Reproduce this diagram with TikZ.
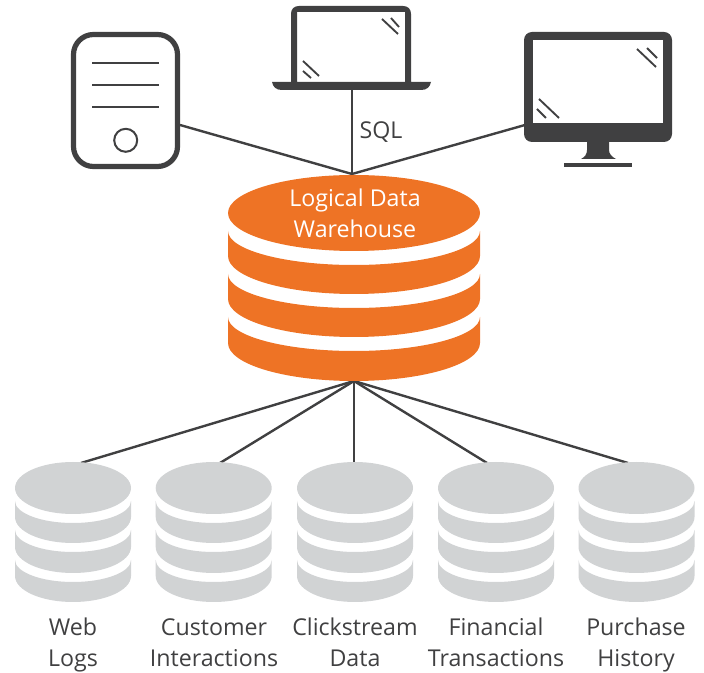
\documentclass[tikz,border=0pt]{standalone}
\usepackage{fontspec}
\setmainfont{Open Sans}
\definecolor{darkgrey}{HTML}{404041}
\definecolor{whorange}{HTML}{EE7325}
\definecolor{dbgrey}{HTML}{D1D3D4}
\tikzset{
  link/.style={draw=darkgrey, line width=1.8pt},
  glint/.style={draw=darkgrey, line width=1.4pt},
  thinline/.style={draw=darkgrey, line width=1.5pt},
  solid dark/.style={fill=darkgrey, even odd rule},
  caption/.style={text=darkgrey, font=\fontsize{17.4}{23.2}\selectfont, align=center, inner sep=0pt,
    execute at begin node=\strut, execute at end node=\strut},
}
\begin{document}
\begin{tikzpicture}[x=0.75pt, y=-0.75pt]
  \useasboundingbox (0,0) rectangle (704,673);

  % connector ends
  \coordinate (hub top) at (352,174);
  \coordinate (hub bottom) at (354,381);
  \coordinate (server port) at (180,125);
  \coordinate (laptop port) at (352,90);
  \coordinate (monitor port) at (525,125);

  \draw[link] (server port) -- (hub top);
  \draw[link] (laptop port) -- (hub top);
  \draw[link] (monitor port) -- (hub top);

  \foreach \name/\x in {web/81, customer/220, click/354, fin/487, purchase/628} {
      \coordinate (\name) at (\x,463);
      \draw[link] (hub bottom) -- (\name);
    }

  % server
  \draw[darkgrey, line width=3.9pt, rounded corners=15pt, fill=white] (73.5,34.5) rectangle (177.5,166.5);
  \foreach \y in {62.7, 84.7, 106.7} {
      \draw[thinline] (92,\y) -- (159,\y);
    }
  \draw[thinline] (125.7,140.3) circle (11.5);

  % laptop
  \fill[solid dark] (291,82) -- (291,14) .. controls (291,9) and (294,6) .. (299,6)
    -- (403,6) .. controls (408,6) and (411,9) .. (411,14) -- (411,82) -- (431,82)
    .. controls (430,87) and (427,90) .. (421,90) -- (282,90) .. controls (276,90) and (273,87) .. (272,82) -- cycle
    (297,12) rectangle (405,82);
  \draw[glint] (303,61) -- (319,76);
  \draw[glint] (303,71) -- (311,78);
  \draw[glint] (382,19) -- (398,34);
  \draw[glint] (391,18) -- (399,27);

  % monitor
  \fill[darkgrey] (587,140) -- (609,140) -- (609,150) .. controls (609,154) and (612,157) .. (616,159)
    -- (581,159) .. controls (585,157) and (587,154) .. (587,150) -- cycle;
  \fill[darkgrey] (564,163) rectangle (632,167);
  \fill[solid dark, rounded corners=6pt] (524,32) rectangle (672,142);
  \fill[white] (533,40) rectangle (663,123);
  \draw[glint] (637,49) -- (656,67);
  \draw[glint] (647,48) -- (657,58);
  \draw[glint] (539,99) -- (559,118);
  \draw[glint] (537,109) -- (546,118);

  % warehouse
  \fill[whorange] (354,213) ellipse [x radius=94.5pt, y radius=28.5pt];
  \foreach \s/\b in {231/256, 274/299, 317/343} {
      \fill[whorange] (228,\s) arc[start angle=180, end angle=360, x radius=94.5pt, y radius=25.5pt]
        -- (480,\b) arc[start angle=360, end angle=180, x radius=94.5pt, y radius=28.5pt] -- cycle;
    }
  \node[caption, text=white] (warehouse) at (355,218) {Logical Data\\Warehouse};

  % sources
  \foreach \x in {73, 213.7, 355, 496, 636.5} {
      \fill[dbgrey] (\x,488) ellipse [x radius=43.5pt, y radius=19.5pt];
      \foreach \s/\b in {501/517, 530/547, 560/576} {
          \fill[dbgrey] (\x-58,\s) arc[start angle=180, end angle=360, x radius=43.5pt, y radius=16.5pt]
            -- (\x+58,\b) arc[start angle=360, end angle=180, x radius=43.5pt, y radius=19.5pt] -- cycle;
        }
    }

  \node[caption] (sql) at (381,132) {SQL};
  \node[caption] (weblogs) at (73,647) {Web\\Logs};
  \node[caption] (interactions) at (214,647) {Customer\\Interactions};
  \node[caption] (clickstream) at (355,647) {Clickstream\\Data};
  \node[caption] (transactions) at (496,647) {Financial\\Transactions};
  \node[caption] (history) at (636,647) {Purchase\\History};
\end{tikzpicture}
\end{document}
